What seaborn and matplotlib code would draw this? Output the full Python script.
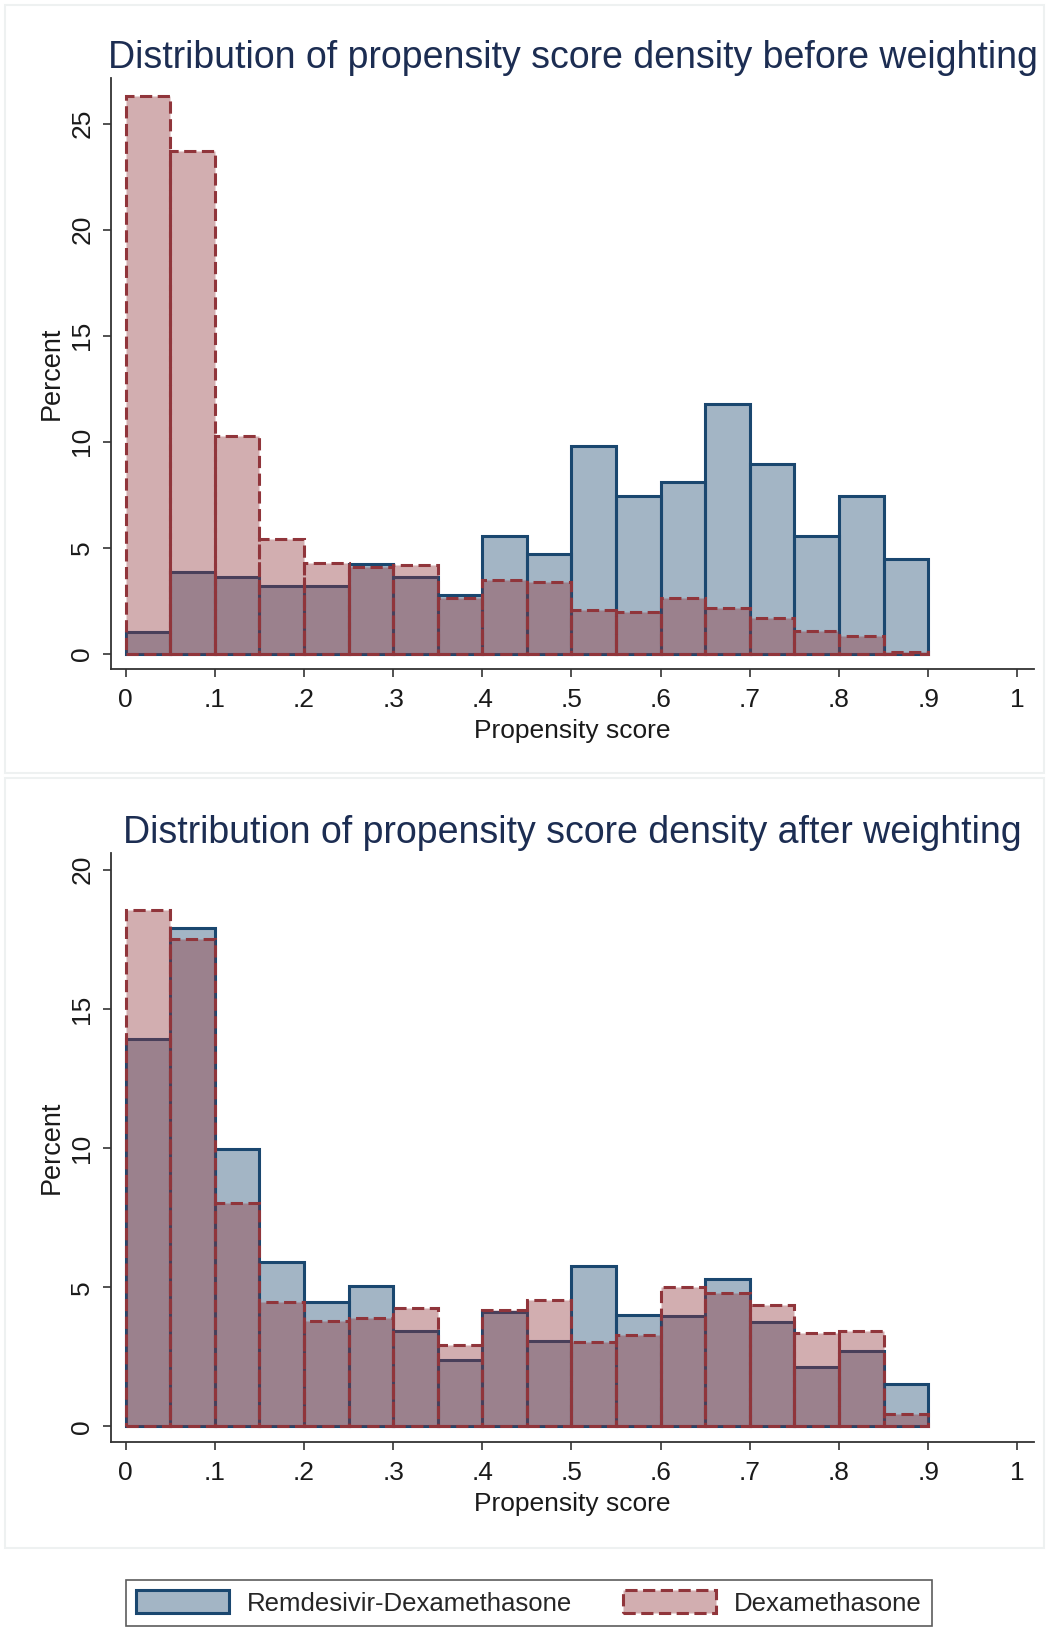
import numpy as np
import matplotlib
matplotlib.use("Agg")
import matplotlib.pyplot as plt
from matplotlib.patches import Patch, Rectangle
import seaborn as sns

# left edge of each 0.05-wide propensity score bin
bin_start = [0.00, 0.05, 0.10, 0.15, 0.20, 0.25, 0.30, 0.35, 0.40,
             0.45, 0.50, 0.55, 0.60, 0.65, 0.70, 0.75, 0.80, 0.85]

# percent of patients per bin
before_remdesivir = [1.03, 3.83, 3.62, 3.17, 3.17, 4.24, 3.62, 2.74, 5.54,
                     4.69, 9.79, 7.45, 8.08, 11.75, 8.94, 5.54, 7.45, 4.44]
before_dexa = [26.3, 23.7, 10.26, 5.40, 4.29, 4.08, 4.16, 2.61, 3.45,
               3.36, 2.07, 1.96, 2.62, 2.16, 1.69, 1.05, 0.85, 0.09]

after_remdesivir = [13.93, 17.91, 9.95, 5.92, 4.46, 5.05, 3.41, 2.37, 4.10,
                    3.06, 5.75, 3.99, 3.97, 5.30, 3.75, 2.12, 2.70, 1.53]
after_dexa = [18.57, 17.52, 8.04, 4.47, 3.79, 3.90, 4.27, 2.93, 4.20,
              4.54, 3.04, 3.28, 5.00, 4.78, 4.36, 3.34, 3.43, 0.44]

x_ticks = [0, 0.1, 0.2, 0.3, 0.4, 0.5, 0.6, 0.7, 0.8, 0.9, 1.0]
x_tick_labels = ["0", ".1", ".2", ".3", ".4", ".5", ".6", ".7", ".8", ".9", "1"]
before_yticks = [0, 5, 10, 15, 20, 25]
after_yticks = [0, 5, 10, 15, 20]

labels = ["Remdesivir-Dexamethasone", "Dexamethasone"]

NAVY = "#1a476f"
MAROON = "#90353b"
TITLE = "#1c2d52"
INK = "#1a1a1a"
DASH = (0, (4, 1.8))

sns.set_theme(style="ticks")
plt.rcParams["font.family"] = ["Liberation Sans", "DejaVu Sans"]

W, H = 1049, 1627
fig = plt.figure(figsize=(W / 100, H / 100), dpi=100)

# faint panel frames like the stata graph regions
for top, bottom in [(5, 773), (778, 1548)]:
    fig.add_artist(Rectangle((5 / W, 1 - bottom / H), 1039 / W, (bottom - top) / H,
                             transform=fig.transFigure, fill=False,
                             edgecolor="#eef1f1", linewidth=1.5))


def draw_panel(ax, remdesivir, dexa, title, yticks, ylim):
    edges = bin_start + [0.90]
    centers = [b + 0.025 for b in bin_start]
    sns.histplot(x=centers, weights=remdesivir, bins=edges, stat="count",
                 color=NAVY, alpha=0.4, edgecolor=NAVY, linewidth=2.2, ax=ax)
    sns.histplot(x=centers, weights=dexa, bins=edges, stat="count",
                 color=MAROON, alpha=0.4, edgecolor=MAROON, linewidth=2.2,
                 linestyle=DASH, ax=ax)

    ax.set_xlim(-0.0163, 1.0186)
    ax.set_ylim(*ylim)
    ax.spines[["top", "right"]].set_visible(False)
    for s in ["left", "bottom"]:
        ax.spines[s].set_color("#333333")
        ax.spines[s].set_linewidth(1.3)

    ax.set_xticks(x_ticks)
    ax.set_xticklabels(x_tick_labels, fontsize=19, color=INK)
    ax.set_yticks(yticks)
    ax.set_yticklabels([str(t) for t in yticks], fontsize=19, color=INK,
                       rotation=90, va="center")
    ax.tick_params(direction="out", length=6, width=1.2, color="#333333", pad=6)
    ax.tick_params(axis="x", pad=8)

    ax.set_xlabel("Propensity score", fontsize=19, color=INK)
    ax.xaxis.set_label_coords(0.5, -0.105)
    ax.xaxis.label.set_va("center")
    ax.set_ylabel("Percent", fontsize=19.5, color=INK)
    ax.yaxis.set_label_coords(-0.064, 0.5)
    ax.yaxis.label.set_va("center")

    ax.set_title(title, fontsize=27, color=TITLE, pad=7)


ax1 = fig.add_axes([111 / W, 1 - 669 / H, 923 / W, 591 / H])
draw_panel(ax1, before_remdesivir, before_dexa,
           "Distribution of propensity score density before weighting",
           before_yticks, (-0.73, 27.15))

ax2 = fig.add_axes([111 / W, 1 - 1442 / H, 923 / W, 589 / H])
draw_panel(ax2, after_remdesivir, after_dexa,
           "Distribution of propensity score density after weighting",
           after_yticks, (-0.56, 20.6))

handles = [
    Patch(facecolor=matplotlib.colors.to_rgba(NAVY, 0.4), edgecolor=NAVY, linewidth=2.2),
    Patch(facecolor=matplotlib.colors.to_rgba(MAROON, 0.4), edgecolor=MAROON,
          linewidth=2.2, linestyle=DASH),
]
leg = fig.legend(handles, labels, loc="center", bbox_to_anchor=(529 / W, 1 - 1603 / H),
                 ncol=2, frameon=True, fancybox=False, edgecolor="#333333",
                 fontsize=18.5, handlelength=3.6, handleheight=1.0,
                 handletextpad=0.7, columnspacing=2.0, borderpad=0.4)
leg.get_frame().set_linewidth(1.2)

fig.savefig("out.png", dpi=100, facecolor="white")
